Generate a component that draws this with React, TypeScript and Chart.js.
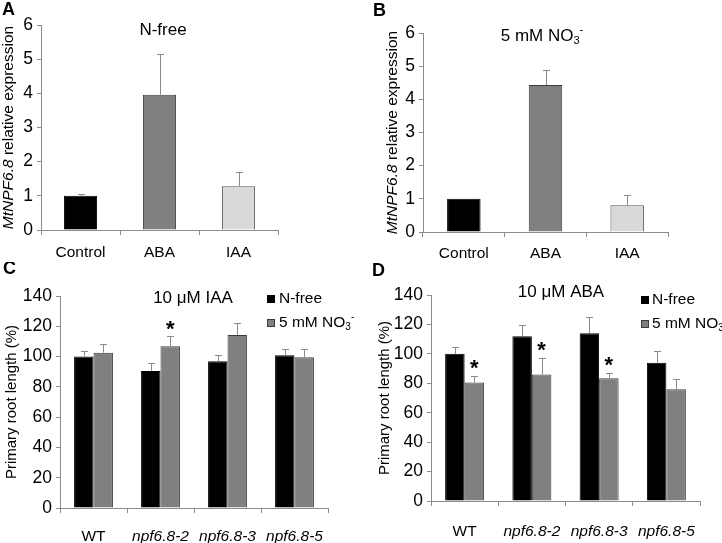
import React, { useEffect, useRef } from "react";
import { Chart, registerables } from "chart.js";
Chart.register(...registerables);

const FONT = '"Liberation Sans", Arial, Helvetica, sans-serif';

// ---------- DATA ----------
const treatments = ["Control", "ABA", "IAA"];
const exprNFree = [1.0, 3.96, 1.28];
const exprNFreeSd = [0.06, 1.19, 0.41];
const exprNitrate = [1.0, 4.43, 0.81];
const exprNitrateSd = [0, 0.46, 0.32];
const exprMax = 6;
const exprStep = 1;

const genotypes = ["WT", "npf6.8-2", "npf6.8-3", "npf6.8-5"];
const iaaNFree = [100, 90.5, 96.9, 100.8];
const iaaNFreeSd = [4, 5, 4, 4];
const iaaNitrate = [102.6, 106.8, 114.3, 99.5];
const iaaNitrateSd = [5.4, 7, 7.7, 5.3];
const iaaNitrateSig = [false, true, false, false];

const abaNFree = [100, 112, 114, 94];
const abaNFreeSd = [4.5, 7.5, 11, 8];
const abaNitrate = [80.5, 86, 83.5, 76];
const abaNitrateSd = [4.5, 11.5, 3.5, 7];
const abaNitrateSig = [true, true, true, false];

const rootMax = 140;
const rootStep = 20;

// ---------- helpers ----------
type Seg = { t: string; italic?: boolean; scale?: number; dy?: number };

function segFont(size: number, s: Seg, bold: boolean) {
  return `${s.italic ? "italic " : ""}${bold ? "bold " : ""}${size * (s.scale ?? 1)}px ${FONT}`;
}

function drawRich(ctx: CanvasRenderingContext2D, segs: Seg[], x: number, y: number, size: number, align: "left" | "center", bold = false) {
  ctx.save();
  ctx.textBaseline = "middle";
  ctx.textAlign = "left";
  ctx.fillStyle = "#000";
  let w = 0;
  for (const s of segs) {
    ctx.font = segFont(size, s, bold);
    w += ctx.measureText(s.t).width;
  }
  let cx = align === "center" ? x - w / 2 : x;
  for (const s of segs) {
    ctx.font = segFont(size, s, bold);
    ctx.fillText(s.t, cx, y + (s.dy ?? 0) * size);
    cx += ctx.measureText(s.t).width;
  }
  ctx.restore();
}

const NITRATE: Seg[] = [{ t: "5 mM NO" }, { t: "3", scale: 0.65, dy: 0.28 }, { t: "-", scale: 0.65, dy: -0.38 }];

type Decor = {
  letter: { t: string; x: number; y: number };
  title: { segs: Seg[]; x: number; y: number; size: number };
  yTitle: { segs: Seg[]; x: number; size: number };
  legend?: { boxX: number; textX: number; rows: number[]; items: { bg: string; border: string; segs: Seg[] }[] };
  sds: number[][];
  sigs?: (boolean[] | null)[];
  starGap?: number;
};

function makeDecor(cfg: Decor) {
  return {
    id: "decor",
    afterDatasetsDraw(chart: any) {
      const ctx: CanvasRenderingContext2D = chart.ctx;
      const ys = chart.scales.y;
      // error bars
      ctx.save();
      ctx.strokeStyle = "#8a8a8a";
      ctx.lineWidth = 1;
      cfg.sds.forEach((sdArr, di) => {
        const meta = chart.getDatasetMeta(di);
        const vals = chart.data.datasets[di].data as number[];
        meta.data.forEach((bar: any, i: number) => {
          const sd = sdArr[i];
          if (!sd) return;
          const x = Math.round(bar.x) + 0.5;
          const y0 = ys.getPixelForValue(vals[i]);
          const y1 = Math.round(ys.getPixelForValue(vals[i] + sd)) + 0.5;
          ctx.beginPath();
          ctx.moveTo(x, y0);
          ctx.lineTo(x, y1);
          ctx.moveTo(x - 3.5, y1);
          ctx.lineTo(x + 3.5, y1);
          ctx.stroke();
        });
      });
      ctx.restore();
      // stars
      if (cfg.sigs) {
        cfg.sigs.forEach((sig, di) => {
          if (!sig) return;
          const meta = chart.getDatasetMeta(di);
          const vals = chart.data.datasets[di].data as number[];
          meta.data.forEach((bar: any, i: number) => {
            if (!sig[i]) return;
            const top = ys.getPixelForValue(vals[i] + cfg.sds[di][i]);
            const cy = top - (cfg.starGap ?? 10);
            ctx.save();
            ctx.font = `bold 22px ${FONT}`;
            ctx.textAlign = "center";
            ctx.textBaseline = "alphabetic";
            ctx.fillStyle = "#000";
            const m = ctx.measureText("*");
            const base = cy - (m.actualBoundingBoxDescent - m.actualBoundingBoxAscent) / 2;
            ctx.fillText("*", bar.x, base);
            ctx.restore();
          });
        });
      }
    },
    afterDraw(chart: any) {
      const ctx: CanvasRenderingContext2D = chart.ctx;
      const ca = chart.chartArea;
      // panel letter
      drawRich(ctx, [{ t: cfg.letter.t }], cfg.letter.x, cfg.letter.y, 18, "left", true);
      // title
      drawRich(ctx, cfg.title.segs, cfg.title.x, cfg.title.y, cfg.title.size, "center");
      // y title
      ctx.save();
      ctx.translate(cfg.yTitle.x, (ca.top + ca.bottom) / 2);
      ctx.rotate(-Math.PI / 2);
      drawRich(ctx, cfg.yTitle.segs, 0, 0, cfg.yTitle.size, "center");
      ctx.restore();
      // legend
      if (cfg.legend) {
        const L = cfg.legend;
        L.items.forEach((it, i) => {
          const y = L.rows[i];
          ctx.save();
          ctx.fillStyle = it.bg;
          ctx.fillRect(L.boxX, y - 4, 8, 8);
          ctx.strokeStyle = it.border;
          ctx.lineWidth = 1;
          ctx.strokeRect(L.boxX + 0.5, y - 3.5, 7, 7);
          ctx.restore();
          drawRich(ctx, it.segs, L.textX, y, 15.5, "left");
        });
      }
    },
  };
}

type Geo = { w: number; h: number; pad: { top: number; right: number; bottom: number; left: number }; yWidth: number; xHeight: number; xPad: number };

function buildChart(canvas: HTMLCanvasElement, geo: Geo, labels: string[], datasets: any[], yMax: number, yStep: number, decor: Decor, italicFrom: number) {
  const axisColor = "#8c8c8c";
  return new Chart(canvas, {
    type: "bar",
    data: { labels, datasets },
    options: {
      animation: false,
      responsive: false,
      events: [],
      layout: { padding: geo.pad },
      plugins: { legend: { display: false }, tooltip: { enabled: false }, title: { display: false } },
      scales: {
        x: {
          afterFit: (s: any) => {
            s.height = geo.xHeight;
          },
          ticks: {
            color: "#000",
            padding: geo.xPad,
            maxRotation: 0,
            autoSkip: false,
            font: (c: any) => ({ family: FONT, size: 15.5, style: c.index >= italicFrom ? "italic" : "normal" }),
          },
          grid: { offset: true, drawOnChartArea: false, drawTicks: true, tickLength: 5, color: axisColor },
          border: { display: true, color: axisColor, width: 1 },
        },
        y: {
          min: 0,
          max: yMax,
          afterFit: (s: any) => {
            s.width = geo.yWidth;
          },
          ticks: { stepSize: yStep, color: "#000", padding: 4, font: { family: FONT, size: 17.5 } },
          grid: { drawOnChartArea: false, drawTicks: true, tickLength: 4, color: axisColor },
          border: { display: true, color: axisColor, width: 1 },
        },
      },
    },
    plugins: [makeDecor(decor) as any],
  });
}

function Panel({ x, y, w, h, make }: { x: number; y: number; w: number; h: number; make: (c: HTMLCanvasElement) => Chart }) {
  const ref = useRef<HTMLCanvasElement>(null);
  useEffect(() => {
    const chart = make(ref.current!);
    return () => chart.destroy();
  }, []);
  return <canvas ref={ref} width={w} height={h} style={{ position: "absolute", left: x, top: y, width: w, height: h }} />;
}

const exprTitle: Seg[] = [{ t: "MtNPF6.8", italic: true }, { t: " relative expression" }];
const rootTitle: Seg[] = [{ t: "Primary root length (%)" }];

const exprBg = ["#000000", "#808080", "#d9d9d9"];
const exprBorder = ["#000000", "#3c3c3c", "#555555"];

export default function App() {
  const makeA = (c: HTMLCanvasElement) =>
    buildChart(
      c,
      { w: 361, h: 262, pad: { top: 25, right: 83, bottom: 0, left: 0 }, yWidth: 41, xHeight: 32, xPad: 8 },
      treatments,
      [{ data: exprNFree, backgroundColor: exprBg, borderColor: exprBorder, borderWidth: 1, categoryPercentage: 1, barPercentage: 0.42 }],
      exprMax,
      exprStep,
      {
        letter: { t: "A", x: 2, y: 10 },
        title: { segs: [{ t: "N-free" }], x: 163, y: 30, size: 17 },
        yTitle: { segs: exprTitle, x: 9, size: 15.5 },
        sds: [exprNFreeSd],
      },
      99
    );
  const makeB = (c: HTMLCanvasElement) =>
    buildChart(
      c,
      { w: 361, h: 262, pad: { top: 33, right: 54, bottom: 0, left: 0 }, yWidth: 62, xHeight: 30, xPad: 7 },
      treatments,
      [{ data: exprNitrate, backgroundColor: exprBg, borderColor: exprBorder, borderWidth: 1, categoryPercentage: 1, barPercentage: 0.41 }],
      exprMax,
      exprStep,
      {
        letter: { t: "B", x: 12, y: 11 },
        title: { segs: NITRATE, x: 181, y: 36, size: 17 },
        yTitle: { segs: exprTitle, x: 32, size: 15.5 },
        sds: [exprNitrateSd],
      },
      99
    );
  const legendItems = [
    { bg: "#000000", border: "#000000", segs: [{ t: "N-free" }] },
    { bg: "#808080", border: "#3c3c3c", segs: NITRATE },
  ];
  const makeC = (c: HTMLCanvasElement) =>
    buildChart(
      c,
      { w: 361, h: 281, pad: { top: 34, right: 33, bottom: 0, left: 0 }, yWidth: 60, xHeight: 35, xPad: 14 },
      genotypes,
      [
        { data: iaaNFree, backgroundColor: "#000000", borderColor: "#000000", borderWidth: 1, categoryPercentage: 0.58, barPercentage: 1 },
        { data: iaaNitrate, backgroundColor: "#808080", borderColor: "#3c3c3c", borderWidth: 1, categoryPercentage: 0.58, barPercentage: 1 },
      ],
      rootMax,
      rootStep,
      {
        letter: { t: "C", x: 3, y: 7 },
        title: { segs: [{ t: "10 μM IAA" }], x: 193, y: 36, size: 17 },
        yTitle: { segs: rootTitle, x: 12, size: 15 },
        legend: { boxX: 267, textX: 279, rows: [37, 61], items: legendItems },
        sds: [iaaNFreeSd, iaaNitrateSd],
        sigs: [null, iaaNitrateSig],
        starGap: 10.5,
      },
      1
    );
  const makeD = (c: HTMLCanvasElement) =>
    buildChart(
      c,
      { w: 361, h: 281, pad: { top: 33, right: 22, bottom: 0, left: 0 }, yWidth: 70, xHeight: 42, xPad: 16 },
      genotypes,
      [
        { data: abaNFree, backgroundColor: "#000000", borderColor: "#000000", borderWidth: 1, categoryPercentage: 0.58, barPercentage: 1 },
        { data: abaNitrate, backgroundColor: "#808080", borderColor: "#3c3c3c", borderWidth: 1, categoryPercentage: 0.58, barPercentage: 1 },
      ],
      rootMax,
      rootStep,
      {
        letter: { t: "D", x: 11, y: 9 },
        title: { segs: [{ t: "10 μM ABA" }], x: 200, y: 30, size: 17 },
        yTitle: { segs: rootTitle, x: 24, size: 15 },
        legend: { boxX: 280, textX: 291, rows: [38, 62], items: legendItems },
        sds: [abaNFreeSd, abaNitrateSd],
        sigs: [null, abaNitrateSig],
        starGap: 11,
      },
      1
    );
  return (
    <div style={{ position: "absolute", left: 0, top: 0, width: 722, height: 543, background: "#fff", overflow: "hidden" }}>
      <Panel x={0} y={0} w={361} h={262} make={makeA} />
      <Panel x={361} y={0} w={361} h={262} make={makeB} />
      <Panel x={0} y={262} w={361} h={281} make={makeC} />
      <Panel x={361} y={262} w={361} h={281} make={makeD} />
    </div>
  );
}
